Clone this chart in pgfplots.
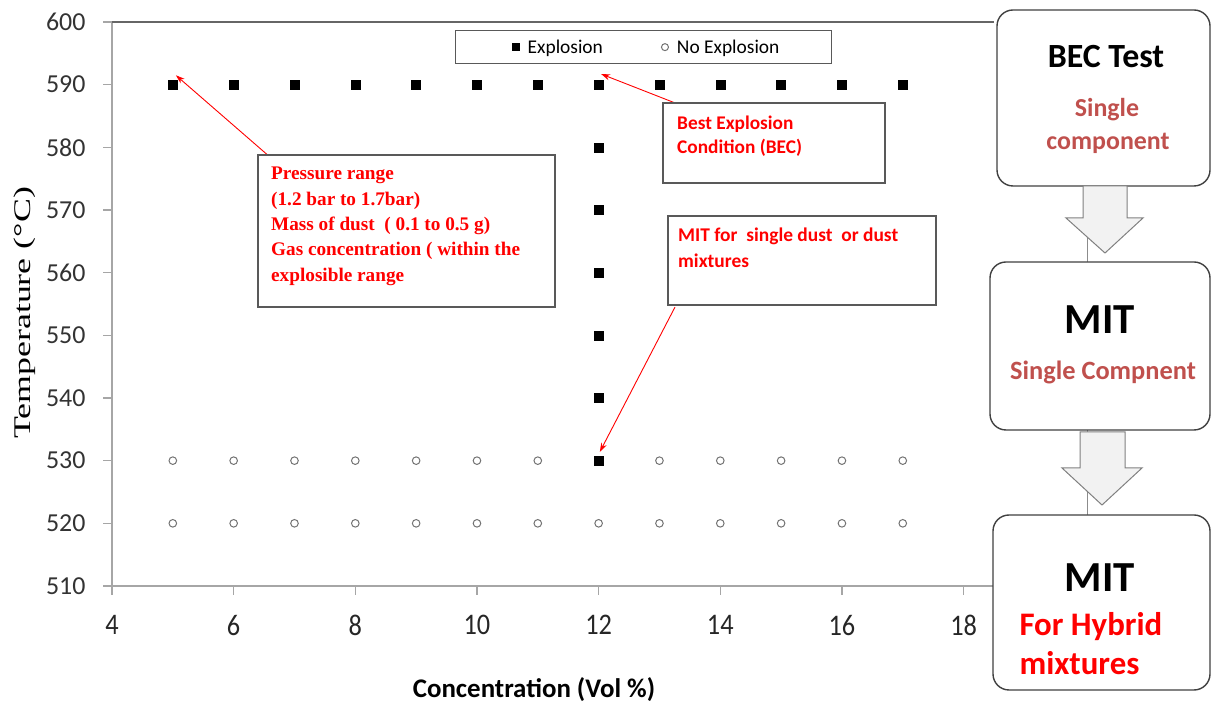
\documentclass[border=0pt]{standalone}
\usepackage{fontspec}
\setmainfont{Carlito}
\newfontfamily\timesf{Liberation Serif}
\usepackage{graphicx}
\usepackage{pgfplots}
\pgfplotsset{compat=1.18}
\usetikzlibrary{arrows.meta}
\definecolor{axgray}{HTML}{A6A6A6}
\definecolor{boxgray}{HTML}{595959}
\definecolor{softred}{HTML}{C0504D}
\definecolor{arrowfill}{HTML}{F2F2F2}
\begin{document}
\begin{tikzpicture}[x=1bp,y=1bp]
\path (0,0) rectangle (1213,704);
\begin{axis}[
  at={(112bp,118bp)}, anchor=south west,
  scale only axis, width=882bp, height=564bp,
  xmin=4, xmax=18.5, ymin=510, ymax=600,
  xtick={4,6,...,18}, ytick={510,520,...,600},
  axis line style={draw=none},
  tick align=outside, xtick pos=bottom, ytick pos=left,
  major tick length=9bp,
  tick style={axgray, line width=1.2bp},
  /pgf/number format/assume math mode=true,
  xticklabel={\scalebox{0.88}[1]{\pgfmathprintnumber{\tick}}},
  xticklabel style={font=\fontsize{30}{30}\selectfont, text=black!85, yshift=-17bp},
  yticklabel style={font=\fontsize{26}{26}\selectfont, text=black!80, xshift=-14bp},
  clip=false,
  legend columns=2,
  legend image code/.code={\path[draw=none,fill=none] (0bp,-4bp) rectangle (20bp,4bp); \draw[#1,mark size=3.5bp] plot coordinates {(10bp,0bp)};},
  legend style={at={(0.3889,0.9858)}, anchor=north west, draw=boxgray, line width=1.3bp,
    font=\fontsize{19.5}{19.5}\selectfont, inner xsep=50bp, inner ysep=7bp,
    /tikz/every even column/.append style={column sep=50bp}},
  legend cell align=left,
]
% frame lines
\draw[axgray, line width=1.2bp] (rel axis cs:0,0) -- (rel axis cs:0,1);
\draw[black!60, line width=1.5bp] (rel axis cs:0,1) -- (rel axis cs:1,1);
\draw[axgray, line width=2.5bp] (rel axis cs:0,0) -- (rel axis cs:1,0);

\addplot[only marks, mark=square*, mark size=4.5bp, black] coordinates {
(5,590) (6,590) (7,590) (8,590) (9,590) (10,590) (11,590) (12,590) (13,590) (14,590) (15,590) (16,590) (17,590)
(12,580) (12,570) (12,560) (12,550) (12,540) (12,530)
};
\addlegendentry{Explosion}
\addplot[only marks, mark=o, mark size=3.8bp, black!55, mark options={line width=1bp}] coordinates {
(5,530) (6,530) (7,530) (8,530) (9,530) (10,530) (11,530) (13,530) (14,530) (15,530) (16,530) (17,530)
(5,520) (6,520) (7,520) (8,520) (9,520) (10,520) (11,520) (12,520) (13,520) (14,520) (15,520) (16,520) (17,520)
};
\addlegendentry{No Explosion}

% annotation arrows
\draw[red, line width=0.9bp, -{Stealth[length=9bp,width=6bp]}] (axis cs:6.597,578.45) -- (axis cs:5.05,591.5);
\draw[red, line width=0.9bp, -{Stealth[length=9bp,width=6bp]}] (axis cs:13.436,586.4) -- (axis cs:12.04,591.7);
\draw[red, line width=0.9bp, -{Stealth[length=9bp,width=6bp]}] (axis cs:13.255,554.5) -- (axis cs:12.02,531.4);
\end{axis}

% axis labels
\node[font=\bfseries\fontsize{27}{27}\selectfont] at (534,14) {Concentration (Vol \%)};
\node[rotate=90, font=\timesf\fontsize{24}{24}\selectfont] at (25,391) {\scalebox{1.5}[1]{Temperature (°C)}};

% annotation boxes
\draw[boxgray, line width=1.3bp, fill=white] (258,397) rectangle (555,549);
\node[anchor=north west, align=left, text=red, font=\timesf\bfseries\fontsize{19.3}{25.5}\selectfont, inner sep=0pt] at (271,537)
 {Pressure range\\(1.2 bar to 1.7bar)\\Mass of dust~~( 0.1 to 0.5 g)\\Gas concentration ( within the\\explosible range};

\draw[boxgray, line width=1.3bp, fill=white] (663,521) rectangle (885,601);
\node[anchor=north west, align=left, text=red, font=\bfseries\fontsize{19.4}{24}\selectfont, inner sep=0pt] at (677,588)
 {Best Explosion\\Condition (BEC)};

\draw[boxgray, line width=1.3bp, fill=white] (668,399) rectangle (936,488);
\node[anchor=north west, align=left, text=red, font=\bfseries\fontsize{19.5}{26}\selectfont, inner sep=0pt] at (678,476)
 {MIT for~~single dust~~or dust\\mixtures};

% flowchart
\draw[black!45, line width=1bp] (1087,518) -- (1087,442);
\draw[black!45, line width=1bp] (1087,274) -- (1087,189);
\draw[black!75, line width=1.4bp, fill=white, rounded corners=16bp] (997,518) rectangle (1210,694);
\draw[black!75, line width=1.4bp, fill=white, rounded corners=16bp] (990,274) rectangle (1210,442);
\draw[black!75, line width=1.4bp, fill=white, rounded corners=16bp] (993,14) rectangle (1210,189);
% block arrows
\draw[black!50, line width=1bp, fill=arrowfill] (1083,518) -- (1083,486) -- (1066,486) -- (1105,451) -- (1143,486) -- (1127,486) -- (1127,518) -- cycle;
\draw[black!50, line width=1bp, fill=arrowfill] (1080,272) -- (1080,236) -- (1062,236) -- (1102,199) -- (1142,236) -- (1125,236) -- (1125,272) -- cycle;

\node[font=\bfseries\fontsize{34}{34}\selectfont] at (1106,647) {BEC Test};
\node[font=\bfseries\fontsize{26}{26}\selectfont, text=softred] at (1107,594) {Single};
\node[font=\bfseries\fontsize{26}{26}\selectfont, text=softred] at (1108,561) {component};
\node[font=\bfseries\fontsize{43}{43}\selectfont] at (1100,384) {MIT};
\node[font=\bfseries\fontsize{26.5}{26.5}\selectfont, text=softred] at (1103,332) {Single Compnent};
\node[font=\bfseries\fontsize{43}{43}\selectfont] at (1100,126) {MIT};
\node[anchor=west, font=\bfseries\fontsize{33}{33}\selectfont, text=red] at (1016,77) {For Hybrid};
\node[anchor=west, font=\bfseries\fontsize{33}{33}\selectfont, text=red] at (1016,41) {mixtures};
\end{tikzpicture}
\end{document}
